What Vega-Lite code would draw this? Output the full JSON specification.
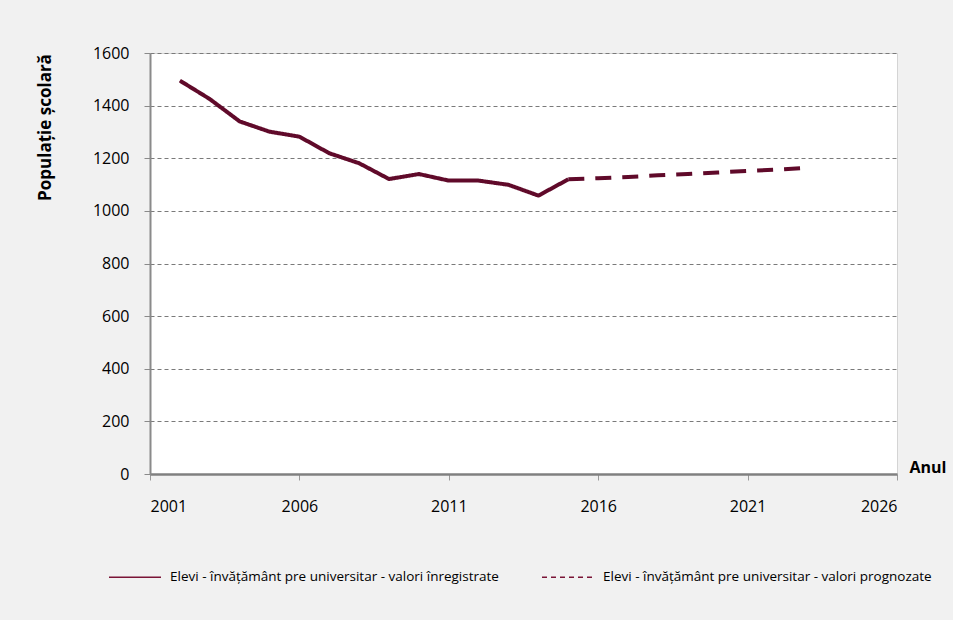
{
  "$schema": "https://vega.github.io/schema/vega-lite/v6.json",
  "width": 747,
  "height": 421,
  "autosize": "none",
  "padding": {"left": 150, "top": 53, "right": 56, "bottom": 146},
  "background": "#f1f1f1",
  "config": {
    "view": {"fill": "#ffffff", "stroke": "#d4d4d4", "strokeWidth": 1},
    "font": "Open Sans"
  },
  "data": {
    "values": [
      {"year": 2002, "value": 1495, "series": "Elevi - învățământ pre universitar - valori înregistrate"},
      {"year": 2003, "value": 1425, "series": "Elevi - învățământ pre universitar - valori înregistrate"},
      {"year": 2004, "value": 1340, "series": "Elevi - învățământ pre universitar - valori înregistrate"},
      {"year": 2005, "value": 1301, "series": "Elevi - învățământ pre universitar - valori înregistrate"},
      {"year": 2006, "value": 1282, "series": "Elevi - învățământ pre universitar - valori înregistrate"},
      {"year": 2007, "value": 1219, "series": "Elevi - învățământ pre universitar - valori înregistrate"},
      {"year": 2008, "value": 1181, "series": "Elevi - învățământ pre universitar - valori înregistrate"},
      {"year": 2009, "value": 1121, "series": "Elevi - învățământ pre universitar - valori înregistrate"},
      {"year": 2010, "value": 1140, "series": "Elevi - învățământ pre universitar - valori înregistrate"},
      {"year": 2011, "value": 1115, "series": "Elevi - învățământ pre universitar - valori înregistrate"},
      {"year": 2012, "value": 1115, "series": "Elevi - învățământ pre universitar - valori înregistrate"},
      {"year": 2013, "value": 1099, "series": "Elevi - învățământ pre universitar - valori înregistrate"},
      {"year": 2014, "value": 1058, "series": "Elevi - învățământ pre universitar - valori înregistrate"},
      {"year": 2015, "value": 1120, "series": "Elevi - învățământ pre universitar - valori înregistrate"},
      {"year": 2015, "value": 1120, "series": "Elevi - învățământ pre universitar - valori prognozate"},
      {"year": 2016, "value": 1124, "series": "Elevi - învățământ pre universitar - valori prognozate"},
      {"year": 2017, "value": 1129, "series": "Elevi - învățământ pre universitar - valori prognozate"},
      {"year": 2018, "value": 1135, "series": "Elevi - învățământ pre universitar - valori prognozate"},
      {"year": 2019, "value": 1140, "series": "Elevi - învățământ pre universitar - valori prognozate"},
      {"year": 2020, "value": 1146, "series": "Elevi - învățământ pre universitar - valori prognozate"},
      {"year": 2021, "value": 1152, "series": "Elevi - învățământ pre universitar - valori prognozate"},
      {"year": 2022, "value": 1157, "series": "Elevi - învățământ pre universitar - valori prognozate"},
      {"year": 2023, "value": 1164, "series": "Elevi - învățământ pre universitar - valori prognozate"}
    ]
  },
  "encoding": {
    "x": {
      "field": "year",
      "type": "quantitative",
      "scale": {"domain": [2001, 2026], "nice": false, "zero": false},
      "axis": {
        "values": [2001, 2006, 2011, 2016, 2021, 2026],
        "format": "d",
        "grid": false,
        "domainColor": "#808080",
        "domainWidth": 2.5,
        "tickColor": "#9a9a9a",
        "tickSize": 6,
        "labelPadding": 18,
        "labelFontSize": 16,
        "labelColor": "#000000",
        "labelFont": "Open Sans",
        "title": "Anul",
        "titleFont": "Open Sans",
        "titleFontSize": 16,
        "titleFontWeight": "bold",
        "titleColor": "#000000",
        "titleX": 759,
        "titleY": -7,
        "titleAlign": "left",
        "titleBaseline": "middle",
        "titleAngle": 0
      }
    },
    "y": {
      "field": "value",
      "type": "quantitative",
      "scale": {"domain": [0, 1600], "nice": false},
      "axis": {
        "values": [0, 200, 400, 600, 800, 1000, 1200, 1400, 1600],
        "format": "d",
        "grid": true,
        "gridColor": "#7a7a7a",
        "gridDash": [4, 3],
        "gridWidth": 1,
        "domainColor": "#8a8a8a",
        "domainWidth": 2,
        "tickColor": "#8a8a8a",
        "tickSize": 6,
        "labelPadding": 15,
        "labelFontSize": 16,
        "labelColor": "#000000",
        "labelFont": "Open Sans",
        "title": "Populație școlară",
        "titleFont": "Open Sans",
        "titleFontSize": 17,
        "titleFontWeight": "bold",
        "titleColor": "#000000",
        "titleX": -105,
        "titleY": 74,
        "titleAngle": -90,
        "titleAlign": "center",
        "titleBaseline": "middle"
      }
    }
  },
  "layer": [
    {
      "transform": [{"filter": "datum.series === 'Elevi - învățământ pre universitar - valori înregistrate'"}],
      "mark": {"type": "line", "strokeWidth": 4, "color": "#600a2a", "strokeJoin": "round"},
      "encoding": {
        "strokeDash": {
          "field": "series",
          "type": "nominal",
          "scale": {
            "domain": ["Elevi - învățământ pre universitar - valori înregistrate", "Elevi - învățământ pre universitar - valori prognozate"],
            "range": [[1, 0], [5, 4]]
          },
          "legend": {
            "orient": "none",
            "legendX": -42,
            "legendY": 497,
            "direction": "horizontal",
            "columns": 2,
            "columnPadding": 40,
            "title": null,
            "symbolType": "stroke",
            "symbolSize": 2704,
            "symbolStrokeWidth": 1.5,
            "symbolStrokeColor": "#7a1436",
            "labelFont": "Open Sans",
            "labelFontSize": 13.5,
            "labelColor": "#000000",
            "labelLimit": 400,
            "labelOffset": 8
          }
        }
      }
    },
    {
      "transform": [{"filter": "datum.series === 'Elevi - învățământ pre universitar - valori prognozate'"}],
      "mark": {"type": "line", "strokeWidth": 4, "color": "#600a2a", "strokeDash": [16, 11]},
      "encoding": {}
    }
  ]
}
